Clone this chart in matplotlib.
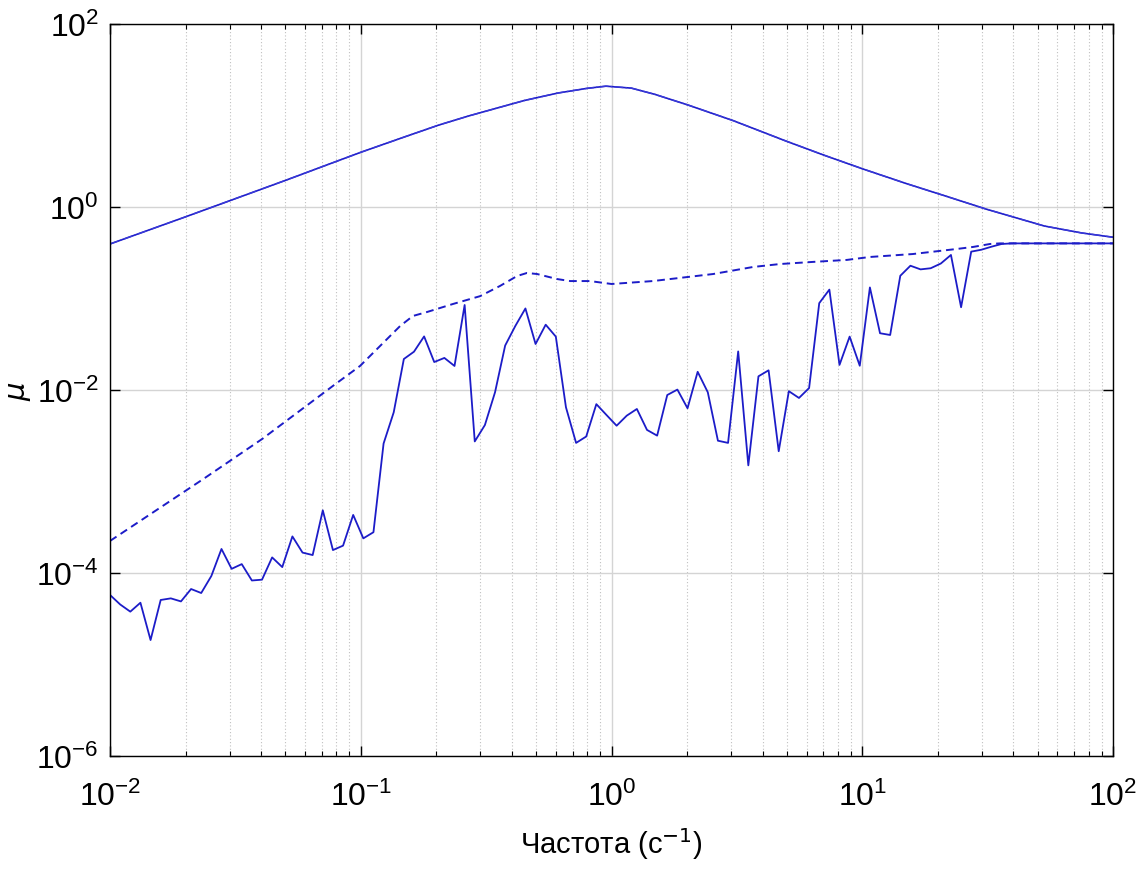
import numpy as np
import matplotlib
matplotlib.use("Agg")
import matplotlib.pyplot as plt
from matplotlib.ticker import LogLocator, NullFormatter, NullLocator

plt.rcParams['font.family'] = ['Liberation Sans', 'DejaVu Sans']

# noisy solid curve, sampled on 100 log-spaced frequencies 1e-2 .. 1e2
freq = np.logspace(-2, 2, 100)
mu_solid = [
    5.75e-5, 4.53e-5, 3.78e-5, 4.73e-5, 1.85e-5, 5.07e-5, 5.28e-5, 4.89e-5, 6.68e-5, 6.04e-5,
    9.27e-5, 1.83e-4, 1.11e-4, 1.25e-4, 8.28e-5, 8.45e-5, 1.48e-4, 1.16e-4, 2.51e-4, 1.67e-4,
    1.57e-4, 4.84e-4, 1.78e-4, 1.99e-4, 4.31e-4, 2.39e-4, 2.79e-4, 2.60e-3, 5.70e-3, 2.18e-2,
    2.62e-2, 3.85e-2, 2.02e-2, 2.24e-2, 1.83e-2, 8.49e-2, 2.74e-3, 4.14e-3, 9.44e-3, 3.06e-2,
    5.00e-2, 7.78e-2, 3.18e-2, 5.17e-2, 3.83e-2, 6.47e-3, 2.64e-3, 3.10e-3, 7.00e-3, 5.33e-3,
    4.07e-3, 5.24e-3, 6.20e-3, 3.66e-3, 3.17e-3, 8.81e-3, 1.01e-2, 6.31e-3, 1.58e-2, 9.44e-3,
    2.79e-3, 2.64e-3, 2.64e-2, 1.50e-3, 1.41e-2, 1.64e-2, 2.14e-3, 9.70e-3, 8.18e-3, 1.05e-2,
    8.89e-2, 0.125, 1.88e-2, 3.83e-2, 1.84e-2, 0.132, 4.17e-2, 3.99e-2, 0.177, 0.228,
    0.208, 0.214, 0.241, 0.299, 8.02e-2, 0.325, 0.341, 0.368, 0.394, 0.40,
    0.40, 0.40, 0.40, 0.40, 0.40, 0.40, 0.40, 0.40, 0.40, 0.40,
]

# smooth dashed curve
freq_dash = [0.01, 0.0235, 0.0404, 0.0775, 0.0993, 0.1435, 0.1614, 0.1836, 0.2333, 0.299,
             0.359, 0.420, 0.460, 0.505, 0.607, 0.684, 0.820, 1.0, 1.46, 1.88,
             2.54, 3.67, 4.70, 6.36, 8.69, 10.7, 15.9, 23.9, 27.7, 32.3, 35.4, 100]
mu_dash = [2.24e-4, 1.06e-3, 2.91e-3, 1.11e-2, 1.83e-2, 5.00e-2, 6.44e-2, 7.11e-2, 8.71e-2, 0.106,
           0.137, 0.176, 0.190, 0.185, 0.163, 0.155, 0.155, 0.144, 0.155, 0.168,
           0.185, 0.221, 0.238, 0.251, 0.264, 0.284, 0.306, 0.348, 0.366, 0.394, 0.40, 0.40]

# upper smooth curve
freq_top = [0.01, 0.02, 0.05, 0.1, 0.15, 0.205, 0.27, 0.34, 0.45, 0.612, 0.8, 0.95,
            1.2, 1.49, 2.02, 3.05, 4.92, 7.0, 10.07, 15.0, 21.8, 31.1, 53.1, 75.0, 100]
mu_top = [0.394, 0.78, 1.95, 3.96, 5.85, 7.87, 9.9, 11.8, 14.6, 17.6, 19.8, 20.9,
          19.9, 17.0, 13.0, 8.8, 5.3, 3.7, 2.6, 1.8, 1.3, 0.95, 0.62, 0.52, 0.467]

line_color = '#1c1cc8'

fig = plt.figure(figsize=(11.45, 8.7), dpi=100)
ax = fig.add_axes([0.0961, 0.1299, 0.8760, 0.8414])

ax.plot(freq_top, mu_top, color=line_color, lw=1.2)
ax.plot(freq_top, mu_top, color='#3a3ad8', lw=1.0, ls='-.')
ax.plot(freq_dash, mu_dash, color=line_color, lw=1.4, ls=(0, (4, 2.5)))
ax.plot(freq, mu_solid, color=line_color, lw=1.3)

ax.set_xscale('log')
ax.set_yscale('log')
ax.set_xlim(1e-2, 1e2)
ax.set_ylim(1e-6, 1e2)

ax.xaxis.set_major_locator(LogLocator(base=10, numticks=10))
ax.xaxis.set_minor_locator(LogLocator(base=10, subs=np.arange(2, 10), numticks=20))
ax.xaxis.set_minor_formatter(NullFormatter())
ax.yaxis.set_major_locator(LogLocator(base=100, numticks=10))
ax.yaxis.set_minor_locator(NullLocator())

ax.grid(True, which='major', color='#d4d4d4', lw=1.0, ls='-')
ax.grid(True, which='minor', axis='x', color='#c0c0c0', lw=0.8, ls=(0, (1, 2)))
ax.set_axisbelow(True)

ax.tick_params(which='both', direction='in', top=True, right=True, labelsize=23)
ax.tick_params(axis='x', which='major', pad=18)
ax.tick_params(axis='y', which='major', pad=8)
ax.tick_params(which='major', length=7, width=1.0)
ax.tick_params(which='minor', length=3.6, width=0.8)
for sp in ax.spines.values():
    sp.set_linewidth(1.0)

ax.set_xlabel('Частота (c$^{-1}$)', fontsize=21)
ax.xaxis.set_label_coords(0.5, -0.095)
ax.set_ylabel(r'$\mu$', fontsize=21)
ax.yaxis.set_label_coords(-0.077, 0.5)

fig.savefig('out.png', dpi=100)
